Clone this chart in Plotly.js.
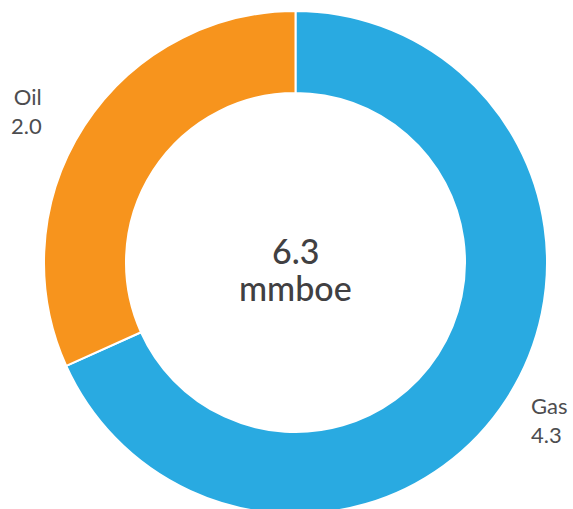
<!DOCTYPE html>
<html>
<head>
<meta charset="utf-8">
<script src="https://cdn.plot.ly/plotly-3.0.1.min.js"></script>
<style>
html,body{margin:0;padding:0;overflow:hidden;background:#fff;}
#chart{width:573px;height:525px;}
</style>
</head>
<body>
<div id="chart"></div>
<script>
const labels = ['Gas', 'Oil'];
const values = [4.3, 2.0];
const colors = ['#29aae1', '#f7941d'];
const unit = 'mmboe';

const W = 573, H = 525;
const total = values.reduce((a, b) => a + b, 0);
const px = x => x / W;
const py = y => 1 - y / H;

const trace = {
  type: 'pie',
  labels: labels,
  values: values,
  sort: false,
  direction: 'clockwise',
  rotation: 0,
  hole: 0.674,
  textinfo: 'none',
  hoverinfo: 'label+value',
  marker: {colors: colors, line: {color: '#ffffff', width: 2}},
  domain: {x: [px(44), px(547)], y: [py(514), py(11)]},
  showlegend: false
};

const labelFont = {family: 'Lato, "Open Sans", sans-serif', size: 22, color: '#4d4d4f'};
const centerFont = {family: 'Lato, "Open Sans", sans-serif', size: 34, color: '#414042', weight: 500};
const annotations = [
  {text: labels[1] + '<br>' + values[1].toFixed(1), x: px(44), y: py(111), xref: 'paper', yref: 'paper',
   xanchor: 'right', yanchor: 'middle', align: 'right', showarrow: false, font: labelFont},
  {text: labels[0] + '<br>' + values[0].toFixed(1), x: px(529), y: py(420), xref: 'paper', yref: 'paper',
   xanchor: 'left', yanchor: 'middle', align: 'left', showarrow: false, font: labelFont},
  {text: total.toFixed(1), x: px(295), y: py(250), xref: 'paper', yref: 'paper',
   xanchor: 'center', yanchor: 'middle', showarrow: false, font: centerFont},
  {text: unit, x: px(295), y: py(287), xref: 'paper', yref: 'paper',
   xanchor: 'center', yanchor: 'middle', showarrow: false, font: centerFont}
];

const layout = {
  width: W, height: H,
  margin: {l: 0, r: 0, t: 0, b: 0},
  paper_bgcolor: '#ffffff',
  annotations: annotations
};

Plotly.newPlot('chart', [trace], layout, {displayModeBar: false, staticPlot: true});
</script>
</body>
</html>
